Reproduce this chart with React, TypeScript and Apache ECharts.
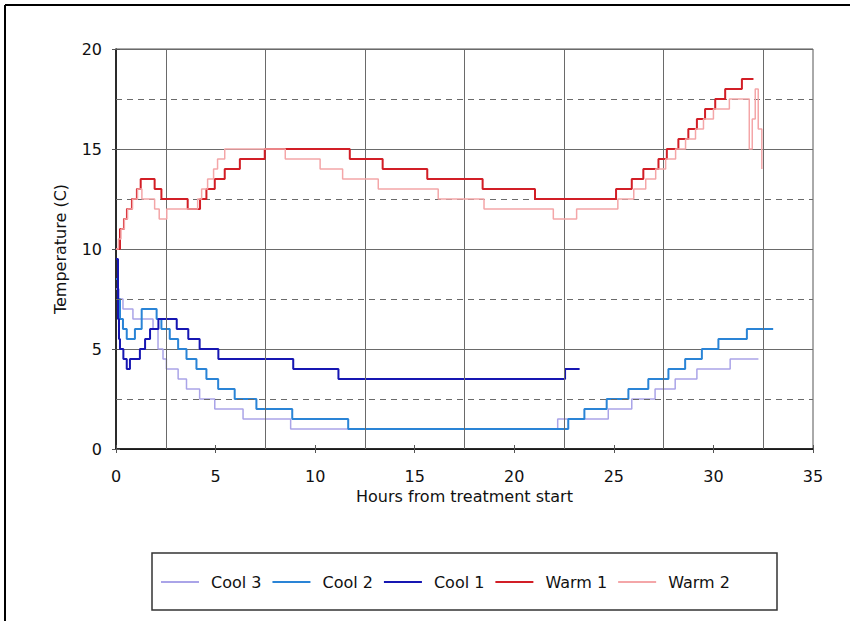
import React, { useEffect, useRef } from 'react';
import * as echarts from 'echarts';

// Series names (legend order)
const seriesNames = ['Cool 3', 'Cool 2', 'Cool 1', 'Warm 1', 'Warm 2'];

// Each point: [hours from treatment start, temperature (C)] — value holds until next point
const cool3: number[][] = [
  [0, 8], [0.15, 7.5], [0.35, 7], [0.85, 6.5], [1.86, 6], [2.11, 5], [2.36, 4.5], [2.53, 4],
  [3.12, 3.5], [3.54, 3], [4.2, 2.5], [4.96, 2], [6.38, 1.5], [8.77, 1], [22.18, 1.5],
  [24.72, 2], [25.9, 2.5], [27.07, 3], [28.08, 3.5], [29.17, 4], [30.84, 4.5], [32.26, 4.5],
];

const cool2: number[][] = [
  [0, 8.5], [0.1, 7.5], [0.2, 6.5], [0.35, 6], [0.54, 5.5], [0.95, 6], [1.29, 7], [2.04, 6.5],
  [2.28, 6], [2.7, 5.5], [3.12, 5], [3.54, 4.5], [4.04, 4], [4.54, 3.5], [5.13, 3], [5.96, 2.5],
  [7.05, 2], [8.85, 1.5], [11.66, 1], [22.71, 1.5], [23.52, 2], [24.64, 2.5], [25.73, 3],
  [26.73, 3.5], [27.74, 4], [28.58, 4.5], [29.42, 5], [30.25, 5.5], [31.68, 6], [33.0, 6],
];

const cool1: number[][] = [
  [0, 9.5], [0.1, 6.5], [0.15, 5.5], [0.2, 5], [0.37, 4.5], [0.54, 4], [0.7, 4.5], [1.2, 5],
  [1.46, 5.5], [1.71, 6], [2.13, 6.5], [3.05, 6], [3.63, 5.5], [4.2, 5], [5.14, 4.5], [8.9, 4],
  [11.17, 3.5], [22.55, 4], [23.28, 4],
];

const warm1: number[][] = [
  [0, 10], [0.2, 11], [0.4, 11.5], [0.55, 12], [0.8, 12.5], [1.05, 13], [1.24, 13.5], [1.94, 13],
  [2.28, 12.5], [3.6, 12], [4.22, 12.5], [4.54, 13], [4.96, 13.5], [5.46, 14], [6.22, 14.5],
  [7.47, 15], [11.74, 14.5], [13.39, 14], [15.63, 13.5], [18.41, 13], [21.04, 12.5], [25.11, 13],
  [25.9, 13.5], [26.48, 14], [27.24, 14.5], [27.66, 15], [28.24, 15.5], [28.74, 16], [29.17, 16.5],
  [29.58, 17], [30.09, 17.5], [30.59, 18], [31.43, 18.5], [32.01, 18.5],
];

const warm2: number[][] = [
  [0, 10], [0.12, 10.5], [0.25, 11], [0.42, 11.5], [0.58, 12], [0.83, 12.5], [1.08, 13], [1.3, 12.5],
  [1.94, 12], [2.17, 11.5], [2.55, 12], [4.1, 12.5], [4.3, 13], [4.6, 13.5], [4.9, 14], [5.1, 14.5],
  [5.46, 15], [8.5, 14.5], [10.25, 14], [11.38, 13.5], [13.17, 13], [16.18, 12.5], [18.48, 12],
  [21.96, 11.5], [23.13, 12], [25.2, 12.5], [26.0, 13], [26.6, 13.5], [27.1, 14], [27.6, 14.5],
  [28.1, 15], [28.6, 15.5], [29.1, 16], [29.5, 16.5], [30.0, 17], [30.8, 17.5], [31.8, 15],
  [31.95, 16.5], [32.1, 18], [32.25, 16], [32.43, 14],
];

const seriesData = [cool3, cool2, cool1, warm1, warm2];

// Axis ticks / reference lines
const xTickValues = [0, 5, 10, 15, 20, 25, 30, 35];
const yTickValues = [0, 5, 10, 15, 20];
const xSolidGridValues = [2.5, 7.5, 12.5, 17.5, 22.5, 27.5, 32.5];
const yDashedGridValues = [2.5, 7.5, 12.5, 17.5];

const FONT = '"DejaVu Sans", Verdana, sans-serif';

export default function App() {
  const ref = useRef<HTMLDivElement>(null);

  useEffect(() => {
    document.body.style.margin = '0';
    if (!ref.current) return;
    const chart = echarts.init(ref.current, undefined, { renderer: 'svg' });

    const colors = ['#aaa4e8', '#2a84d6', '#1616b2', '#d21e26', '#f4a6a8'];
    const widths = [1.5, 2, 2, 2, 1.5];
    const tickStyle = { color: '#555', width: 1 };
    const txt = { fontSize: 16, color: '#111', fontFamily: FONT };

    const option: any = {
      animation: false,
      textStyle: { fontFamily: FONT },
      grid: {
        left: 116,
        right: 37,
        top: 49,
        bottom: 172,
        show: true,
        borderColor: '#555',
        borderWidth: 1,
      },
      xAxis: [
        {
          type: 'value',
          min: xTickValues[0],
          max: xTickValues[xTickValues.length - 1],
          interval: 5,
          name: 'Hours from treatment start',
          nameLocation: 'middle',
          nameGap: 39,
          nameTextStyle: txt,
          axisLine: { lineStyle: { color: '#000', width: 1.5 } },
          axisTick: { show: true, length: 4, lineStyle: tickStyle },
          axisLabel: { ...txt, margin: 19 },
          splitLine: { show: false },
        },
        {
          type: 'value',
          min: xTickValues[0],
          max: xTickValues[xTickValues.length - 1],
          interval: 5,
          position: 'bottom',
          axisLine: { show: false },
          axisTick: { show: true, inside: true, length: 4, lineStyle: tickStyle },
          axisLabel: { show: false },
          splitLine: { show: false },
        },
      ],
      yAxis: [
        {
          type: 'value',
          min: yTickValues[0],
          max: yTickValues[yTickValues.length - 1],
          interval: 5,
          name: 'Temperature (C)',
          nameLocation: 'middle',
          nameGap: 48,
          nameRotate: 90,
          nameTextStyle: txt,
          axisLine: { show: true, lineStyle: { color: '#000', width: 1.5 } },
          axisTick: { show: true, length: 4, lineStyle: tickStyle },
          axisLabel: { ...txt, margin: 14 },
          splitLine: { show: true, lineStyle: { color: '#6a6a6a', width: 1 } },
        },
        {
          type: 'value',
          min: yTickValues[0],
          max: yTickValues[yTickValues.length - 1],
          interval: 5,
          position: 'left',
          axisLine: { show: false },
          axisTick: { show: true, inside: true, length: 4, lineStyle: tickStyle },
          axisLabel: { show: false },
          splitLine: { show: false },
        },
      ],
      legend: {
        data: seriesNames,
        left: 161,
        top: 574,
        icon: 'rect',
        itemWidth: 38,
        itemHeight: 2,
        itemGap: 11,
        padding: 0,
        textStyle: { ...txt, width: 62, overflow: 'none', padding: [0, 0, 0, 7] },
      },
      graphic: [
        { type: 'line', shape: { x1: 5, y1: 5, x2: 850, y2: 5 }, style: { stroke: '#000', lineWidth: 2 } },
        { type: 'line', shape: { x1: 5, y1: 5, x2: 5, y2: 621 }, style: { stroke: '#000', lineWidth: 2 } },
        {
          type: 'rect',
          shape: { x: 152, y: 553, width: 625, height: 57 },
          style: { fill: 'none', stroke: '#333', lineWidth: 1.5 },
        },
      ],
      series: [
        {
          type: 'line',
          name: '__grid',
          data: [[0, 0]],
          showSymbol: false,
          lineStyle: { opacity: 0 },
          silent: true,
          z: 1,
          markLine: {
            silent: true,
            symbol: ['none', 'none'],
            label: { show: false },
            emphasis: { disabled: true },
            data: [
              ...xSolidGridValues.map((v) => ({ xAxis: v, lineStyle: { color: '#6a6a6a', width: 1, type: 'solid' } })),
              ...yDashedGridValues.map((v) => ({ yAxis: v, lineStyle: { color: '#6a6a6a', width: 1, type: [6, 5] } })),
            ],
          },
        },
        ...seriesNames.map((name, i) => ({
          type: 'line',
          name,
          data: seriesData[i],
          step: 'end',
          showSymbol: false,
          color: colors[i],
          lineStyle: { color: colors[i], width: widths[i] },
          z: 2 + i,
        })),
      ],
    };

    chart.setOption(option);
    return () => chart.dispose();
  }, []);

  return <div ref={ref} style={{ width: 850, height: 621 }} />;
}
